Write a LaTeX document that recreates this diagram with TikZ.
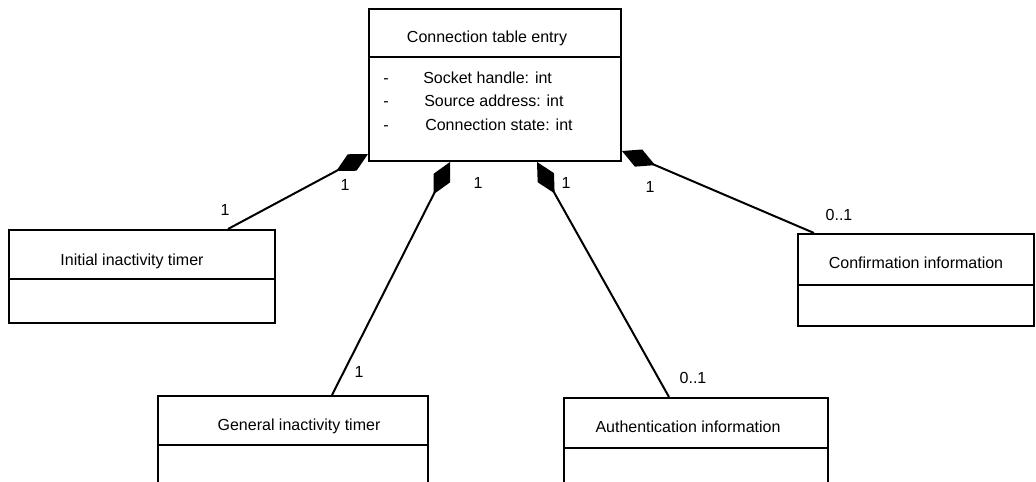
\documentclass[tikz,border=0pt]{standalone}
\usepackage{fontspec}
\setmainfont{Liberation Sans}
\usetikzlibrary{arrows.meta,fit}
\begin{document}
\begin{tikzpicture}[x=0.75pt,y=-0.75pt,
  box/.style={draw,line width=1.5pt,inner sep=0pt},
  sep/.style={line width=1.5pt},
  txt/.style={inner sep=0pt,font=\fontsize{12}{14}\selectfont},
  comp/.style={line width=1.5pt,-{Diamond[length=27pt,width=14pt]}},
]
\clip (0,0) rectangle (1036,482);
% boxes
\node[box,fit={(369,9)(621,161)}] (top) {};
\draw[sep] (369,57) -- (621,57);
\node[box,fit={(9,230)(275,323)}] (init) {};
\draw[sep] (9,279) -- (275,279);
\node[box,fit={(798,234)(1034,326)}] (conf) {};
\draw[sep] (798,285) -- (1034,285);
\node[box,fit={(158,396)(428,520)}] (gen) {};
\draw[sep] (158,445) -- (428,445);
\node[box,fit={(564,398)(828,520)}] (auth) {};
\draw[sep] (564,448) -- (828,448);
% texts
\node[txt,anchor=base] (ttitle) at (487,42) {Connection table entry};
\node[txt,anchor=base] (d1) at (386,83) {-};
\node[txt,anchor=base] (d2) at (386,106) {-};
\node[txt,anchor=base] (d3) at (386,130) {-};
\node[txt,anchor=base west] (a1) at (423,83) {Socket handle: int};
\node[txt,anchor=base west] (a2) at (424,106) {Source address: int};
\node[txt,anchor=base west] (a3) at (425,130) {Connection state: int};
\node[txt,anchor=base] (tinit) at (132,265) {Initial inactivity timer};
\node[txt,anchor=base] (tconf) at (916,268) {Confirmation information};
\node[txt,anchor=base] (tgen) at (299,430) {General inactivity timer};
\node[txt,anchor=base] (tauth) at (688,432) {Authentication information};
% connectors
\draw[comp] ([xshift=-36pt]init.north east) -- ([yshift=6pt]top.south west);
\draw[comp] ([xshift=131.25pt]gen.north west) -- ([xshift=61.5pt]top.south west);
\draw[comp] ([xshift=79.5pt]auth.north west) -- ([xshift=126.75pt]top.south west);
\draw[comp] ([xshift=12.75pt]conf.north west) -- ([yshift=8.25pt]top.south east);
% multiplicities
\node[txt] (m1) at (225,210) {1};
\node[txt] (m2) at (345,185) {1};
\node[txt] (m3) at (478,183) {1};
\node[txt] (m4) at (566,183) {1};
\node[txt] (m5) at (650,187) {1};
\node[txt] (m6) at (839,215) {0..1};
\node[txt] (m7) at (359,372) {1};
\node[txt] (m8) at (693,378) {0..1};
\end{tikzpicture}
\end{document}
